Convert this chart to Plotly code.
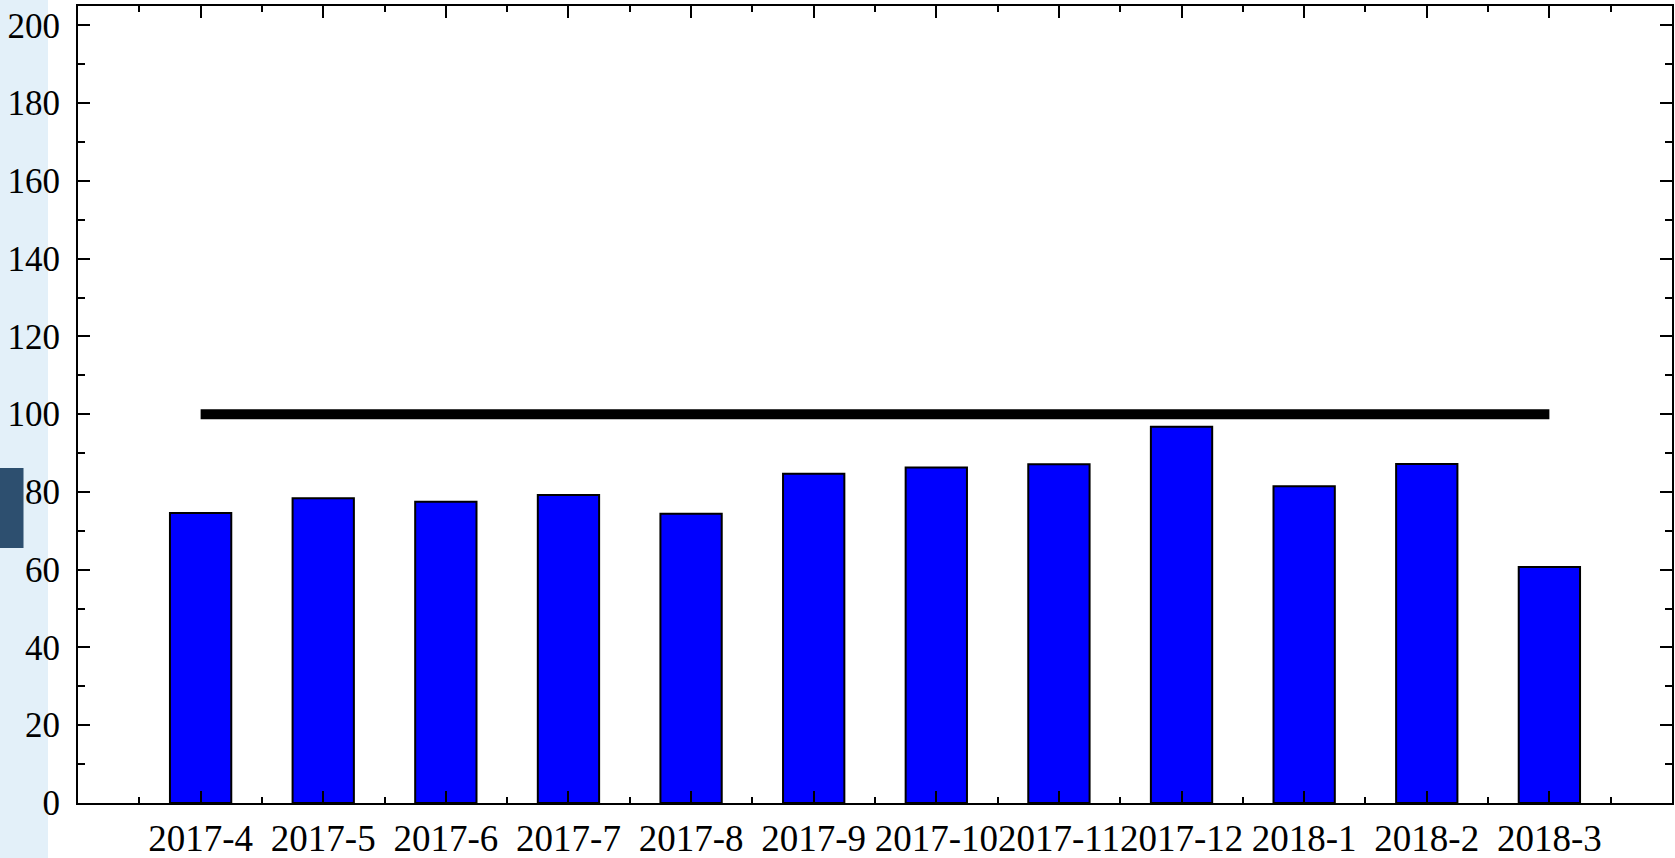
import plotly.graph_objects as go

months = ["2017-4", "2017-5", "2017-6", "2017-7", "2017-8", "2017-9",
          "2017-10", "2017-11", "2017-12", "2018-1", "2018-2", "2018-3"]
values = [74.6, 78.4, 77.5, 79.2, 74.4, 84.7, 86.3, 87.1, 96.8, 81.5, 87.2, 60.7]
target = [100, 100, 100, 100, 100, 100, 100, 100, 100, 100, 100, 100]
y_ticks = [0, 20, 40, 60, 80, 100, 120, 140, 160, 180, 200]

idx = list(range(len(months)))

fig = go.Figure()
fig.add_trace(go.Bar(
    x=idx, y=values, width=0.5,
    marker=dict(color="#0000ff", line=dict(color="black", width=2)),
    showlegend=False, hoverinfo="x+y",
))
fig.add_trace(go.Scatter(
    x=idx, y=target, mode="lines",
    line=dict(color="black", width=10),
    showlegend=False,
))

W, H = 1675, 858
L, R, T, B = 78, 3, 6, 55
pw = W - L - R
ph = H - T - B


def px_x(p):
    return (p - L) / pw


def px_y(p):
    return (H - B - p) / ph


shapes = [
    dict(type="rect", xref="paper", yref="paper",
         x0=px_x(0), x1=px_x(48), y0=px_y(H), y1=px_y(0),
         fillcolor="#e3f0f9", line=dict(width=0), layer="below"),
    dict(type="rect", xref="paper", yref="paper",
         x0=px_x(0), x1=px_x(23.5), y0=px_y(548), y1=px_y(468),
         fillcolor="#2d4f6f", line=dict(width=0), layer="below"),
]

font_family = "Liberation Serif, Times New Roman, serif"

fig.update_layout(
    width=W, height=H,
    margin=dict(l=L, r=R, t=T, b=B, autoexpand=False),
    paper_bgcolor="white", plot_bgcolor="white",
    shapes=shapes,
    font=dict(family=font_family, color="black"),
    xaxis=dict(
        range=[-1, 12], automargin=False,
        tickmode="array", tickvals=idx, ticktext=months,
        tickangle=0,
        ticks="inside", ticklen=12, tickwidth=2, tickcolor="black",
        showline=True, linecolor="black", linewidth=2, mirror="ticks",
        showgrid=False, zeroline=False,
        tickfont=dict(family=font_family, size=37, color="black"),
        ticklabelstandoff=2,
        minor=dict(tickmode="linear", tick0=-0.5, dtick=1, ticks="inside",
                   ticklen=6, tickwidth=2, tickcolor="black", showgrid=False),
    ),
    yaxis=dict(
        range=[0, 205], automargin=False,
        tickmode="array", tickvals=y_ticks,
        ticks="inside", ticklen=12, tickwidth=2, tickcolor="black",
        showline=True, linecolor="black", linewidth=2, mirror="ticks",
        showgrid=False, zeroline=False,
        tickfont=dict(family=font_family, size=35, color="black"),
        ticklabelstandoff=9,
        minor=dict(tickmode="linear", tick0=10, dtick=20, ticks="inside",
                   ticklen=7, tickwidth=2, tickcolor="black", showgrid=False),
    ),
)

fig.write_html(
    "out.html",
    config={"displayModeBar": False},
    post_script="document.body.style.margin='0';document.body.style.overflow='hidden';",
)
